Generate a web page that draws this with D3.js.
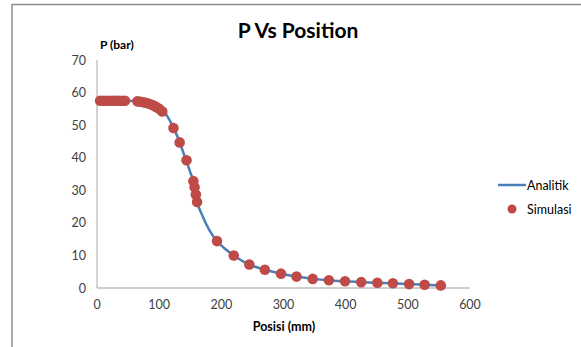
<!DOCTYPE html>
<html>
<head>
<meta charset="utf-8">
<script src="https://cdn.jsdelivr.net/npm/d3@7"></script>
<style>
  body { margin: 0; background: #fff; }
  text { font-family: Lato, "Open Sans", sans-serif; }
</style>
</head>
<body>
<svg id="chart" width="581" height="347"></svg>
<script>
// Analytic curve (Posisi mm, P bar)
const analitikX = [0, 30, 60, 80, 100, 110, 120, 130, 140, 150, 155, 161, 170, 180, 193, 205, 220, 245, 270, 296, 321, 347, 373, 399, 425, 451, 476, 502, 527, 553];
const analitikP = [57.6, 57.6, 57.4, 56.8, 55.2, 53.6, 50.4, 46.2, 41.0, 35.6, 32.8, 26.6, 22.0, 18.0, 14.4, 12.2, 10.0, 7.2, 5.6, 4.4, 3.5, 2.8, 2.4, 2.05, 1.8, 1.6, 1.45, 1.2, 1.0, 0.8];

// Simulation points
const simulasiX = [5, 10, 15, 20, 25, 30, 35, 40, 45, 65, 70, 75, 80, 85, 90, 95, 100, 105, 123, 133, 144, 155, 157, 159, 161, 193, 220, 245, 270, 296, 321, 347, 373, 399, 425, 451, 476, 502, 527, 553];
const simulasiP = [57.5, 57.5, 57.5, 57.5, 57.5, 57.5, 57.5, 57.5, 57.5, 57.3, 57.2, 57.0, 56.8, 56.5, 56.1, 55.6, 55.0, 54.2, 49.1, 44.7, 39.2, 32.8, 30.9, 28.7, 26.4, 14.4, 10.0, 7.2, 5.6, 4.4, 3.5, 2.8, 2.4, 2.05, 1.8, 1.6, 1.45, 1.2, 1.0, 0.8];

const xTicks = [0, 100, 200, 300, 400, 500, 600];
const yTicks = [0, 10, 20, 30, 40, 50, 60, 70];

const svg = d3.select("#chart");

// outer frame
svg.append("line").attr("x1", 12).attr("x2", 581).attr("y1", 4.5).attr("y2", 4.5)
  .attr("stroke", "#8c8c8c").attr("stroke-width", 1.5);
svg.append("line").attr("x1", 12).attr("x2", 12).attr("y1", 4).attr("y2", 347)
  .attr("stroke", "#8c8c8c").attr("stroke-width", 1.5);

const x = d3.scaleLinear().domain([0, 600]).range([97, 470]);
const y = d3.scaleLinear().domain([0, 70]).range([288, 60]);

// axes
svg.append("line").attr("x1", x(0)).attr("x2", x(600)).attr("y1", y(0)).attr("y2", y(0))
  .attr("stroke", "#bfbfbf").attr("stroke-width", 1.5);
svg.append("line").attr("x1", x(0)).attr("x2", x(0)).attr("y1", y(0)).attr("y2", y(70))
  .attr("stroke", "#a6a6a6").attr("stroke-width", 1);

svg.selectAll(".ytick").data(yTicks).enter().append("text")
  .attr("x", 86).attr("y", d => y(d) + 4.5)
  .attr("text-anchor", "end").attr("font-size", 12.5).attr("fill", "#404040")
  .text(d => d);

svg.selectAll(".xtick").data(xTicks).enter().append("text")
  .attr("x", d => x(d)).attr("y", 309)
  .attr("text-anchor", "middle").attr("font-size", 12.5).attr("fill", "#404040")
  .text(d => d);

// titles
svg.append("text").attr("x", 298).attr("y", 38).attr("text-anchor", "middle")
  .attr("font-size", 21).attr("font-weight", "bold").attr("fill", "#000")
  .text("P Vs Position");
svg.append("text").attr("x", 100).attr("y", 49)
  .attr("font-size", 12).attr("font-weight", "bold").attr("fill", "#000")
  .text("P (bar)");
svg.append("text").attr("x", 284).attr("y", 331).attr("text-anchor", "middle")
  .attr("font-size", 12.5).attr("font-weight", "bold").attr("fill", "#000")
  .text("Posisi (mm)");

// analytic line
const line = d3.line().x(d => x(d[0])).y(d => y(d[1])).curve(d3.curveMonotoneX);
svg.append("path").datum(d3.zip(analitikX, analitikP))
  .attr("d", line).attr("fill", "none")
  .attr("stroke", "#4a7ebb").attr("stroke-width", 2.5);

// simulation markers
svg.selectAll(".pt").data(d3.zip(simulasiX, simulasiP)).enter().append("circle")
  .attr("cx", d => x(d[0])).attr("cy", d => y(d[1])).attr("r", 5.3)
  .attr("fill", "#be4b48");

// legend
svg.append("line").attr("x1", 498).attr("x2", 526).attr("y1", 185).attr("y2", 185)
  .attr("stroke", "#4a7ebb").attr("stroke-width", 2.5);
svg.append("text").attr("x", 527).attr("y", 189.5).attr("font-size", 12.5).attr("fill", "#000")
  .text("Analitik");
svg.append("circle").attr("cx", 512).attr("cy", 209).attr("r", 4.5).attr("fill", "#be4b48");
svg.append("text").attr("x", 527).attr("y", 213.5).attr("font-size", 12.5).attr("fill", "#000")
  .text("Simulasi");
</script>
</body>
</html>
